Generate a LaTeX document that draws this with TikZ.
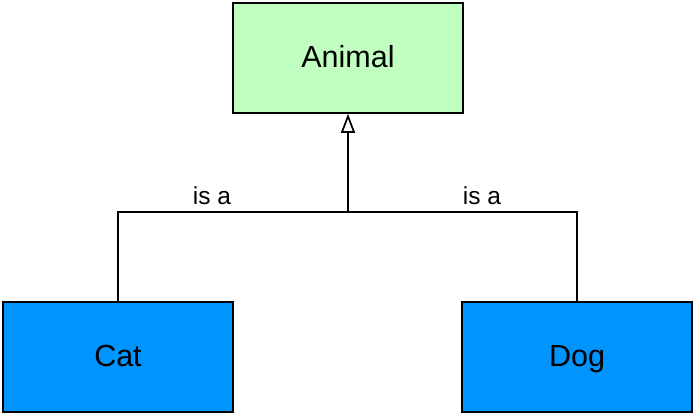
\documentclass[tikz,border=0pt]{standalone}
\usepackage{fontspec}
\setmainfont{Liberation Sans}
\usetikzlibrary{arrows.meta}
\definecolor{animalgreen}{HTML}{C0FFC0}
\definecolor{petblue}{HTML}{0094FF}
\tikzset{
  box/.style={draw=black, line width=1.7pt, minimum width=230pt, minimum height=110pt, inner sep=0pt, text height=22.9pt, text depth=3.5pt, font=\fontsize{30.5}{36}\selectfont},
  link/.style={line width=1.9pt},
  lbl/.style={font=\fontsize{24.5}{29}\selectfont, inner sep=0pt, text height=18.4pt, text depth=3pt}
}
\begin{document}
\begin{tikzpicture}[x=1pt,y=-1pt]
\useasboundingbox (0,0) rectangle (694,414);
\node[box, fill=animalgreen] (animal) at (348,58) {Animal};
\node[box, fill=petblue] (cat) at (118,357) {Cat};
\node[box, fill=petblue] (dog) at (577,357) {Dog};
\coordinate (join) at (348,212);
\draw[link] (cat.north) |- (join);
\draw[link] (dog.north) |- (join);
\draw[link, -{Triangle[open, length=19pt, width=14pt, line width=1.7pt]}] (join) -- (animal.south);
\node[lbl] (la) at (212,197) {is a};
\node[lbl] (lb) at (482,197) {is a};
\end{tikzpicture}
\end{document}
